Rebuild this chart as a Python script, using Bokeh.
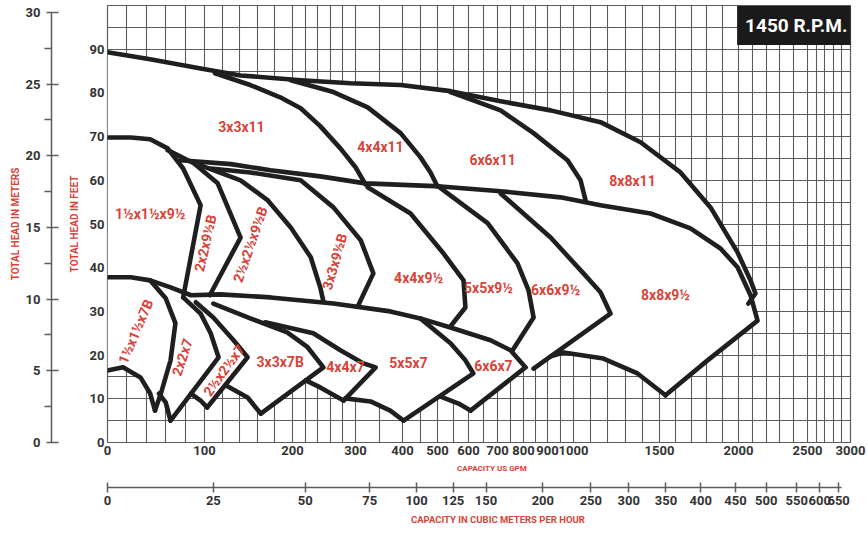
import numpy as np
from bokeh.plotting import figure
from bokeh.models import (Range1d, LinearAxis, FixedTicker, CustomJSTickFormatter,
                          Label, ColumnDataSource)
from bokeh.core.properties import value
from bokeh.embed import file_html
from bokeh.resources import INLINE

# ---------------- scale of the (non-uniform) capacity axis ----------------
GPM_KNOTS = [0, 100, 200, 300, 400, 500, 600, 700, 800, 900, 1000, 1500, 2000, 2500, 3000]
KNOT_POS = [0, 97, 185, 248, 295, 330, 361, 390, 416, 440, 466, 552, 631, 700, 743]

# ---------------- tick values ----------------
GPM_TICKS = [0, 100, 200, 300, 400, 500, 600, 700, 800, 900, 1000, 1500, 2000, 2500, 3000]
M3H_TICKS = [0, 25, 50, 75, 100, 125, 150, 200, 250, 300, 350, 400, 450, 500, 550, 600, 650]
FT_TICKS = [0, 10, 20, 30, 40, 50, 60, 70, 80, 90]
M_TICKS = [0, 5, 10, 15, 20, 25, 30]
GPM_PER_M3H = 4.4029
FT_PER_M = 3.2808

# ---------------- pump coverage curves: (US GPM, head ft) ----------------
# 11" series
E11 = [(0, 89.3), (44, 87.7), (96, 85.6), (141, 84.0), (213, 82.9), (292, 82.2), (396, 81.8),
       (542, 80.4), (712, 78.1), (912, 76.0), (1157, 73.3), (1390, 68.7), (1633, 61.8),
       (1823, 53.8), (1994, 43.5), (2087, 37.1), (2123, 34.1), (2072, 31.8)]
R3X11 = [(112, 84.5), (152, 81.8), (186, 79.0), (213, 76.5), (244, 72.4), (276, 67.3),
         (300, 63.0), (321, 59.1)]
R4X11 = [(198, 82.9), (265, 80.2), (326, 76.7), (396, 70.8), (451, 65.3), (480, 61.8), (500, 58.6)]
R6X11 = [(542, 80.2), (712, 76.0), (842, 70.8), (977, 64.6), (1041, 60.0), (1070, 55.4)]
# 9 1/2" series
T95 = [(75, 64.6), (130, 63.7), (175, 62.3), (244, 60.9), (321, 59.3), (510, 58.6), (712, 57.5),
       (950, 56.1), (1157, 54.3), (1448, 52.4), (1696, 49.0), (1886, 44.4), (1994, 40.1),
       (2087, 33.7), (2138, 27.9), (1804, 18.8), (1538, 10.8)]
E95 = [(0, 69.8), (24, 69.8), (44, 69.4), (62, 67.3), (78, 62.7), (96, 54.3), (78, 33.2)]
R2X95 = [(62, 66.9), (89, 63.9), (115, 59.3), (141, 46.9), (106, 33.7)]
R25X95 = [(96, 63.4), (141, 60.0), (172, 55.4), (198, 49.2), (229, 42.4), (244, 35.5), (249, 32.3)]
R3X95 = [(107, 62.7), (152, 61.8), (213, 60.0), (265, 53.8), (311, 46.3), (338, 38.7), (306, 31.4)]
R4X95 = [(326, 58.4), (423, 52.4), (519, 43.3), (584, 37.1), (590, 30.9), (542, 26.6)]
R5X95 = [(510, 58.2), (666, 50.2), (777, 41.0), (821, 34.8), (842, 28.6), (758, 21.1)]
R6X95 = [(712, 57.0), (912, 46.9), (1058, 38.7), (1157, 34.4), (1215, 29.5), (842, 16.9)]
B8X95 = [(1538, 10.8), (1372, 15.8), (1174, 19.2), (962, 20.6), (912, 19.7)]
# 7" series
L7TOP = [(44, 37.1), (65, 35.5), (86, 33.7), (118, 33.9), (175, 33.2), (265, 31.8), (374, 30.0),
         (451, 28.4), (552, 26.1), (676, 23.4), (750, 21.1), (808, 17.2)]
E7 = [(0, 37.8), (24, 37.8), (44, 37.1), (60, 33.0), (70, 27.3), (65, 18.8), (55, 11.2), (49, 7.3)]
B15X7 = [(0, 16.5), (16, 17.2), (34, 14.9), (44, 11.2), (49, 7.3)]
R2X7 = [(78, 33.2), (96, 29.5), (107, 25.0), (116, 19.5), (65, 5.0)]
B2X7 = [(53, 11.2), (60, 9.2), (65, 5.0)]
R25X7 = [(91, 32.1), (110, 28.6), (133, 23.4), (149, 19.5), (103, 8.0)]
B25X7 = [(86, 11.2), (96, 9.6), (103, 8.0)]
R3X7 = [(110, 31.8), (152, 28.4), (194, 25.2), (224, 21.8), (249, 17.2), (164, 6.6)]
B3X7 = [(124, 13.1), (149, 10.3), (164, 6.6)]
R4X7 = [(169, 27.5), (233, 25.0), (276, 21.1), (317, 18.1), (343, 17.2), (281, 9.6)]
B4X7 = [(221, 14.2), (244, 12.6), (281, 9.6)]
R5X7 = [(451, 28.4), (542, 22.7), (590, 18.8), (617, 15.8), (403, 5.0)]
B5X7 = [(284, 10.1), (332, 9.4), (374, 7.3), (403, 5.0)]
R6X7 = [(808, 17.2), (607, 7.3)]
B6X7 = [(510, 10.5), (568, 8.9), (607, 7.3)]

# ---------------- region labels ----------------
LBL_TEXT = ["3x3x11", "4x4x11", "6x6x11", "8x8x11", "1½x1½x9½", "2x2x9½B", "2½x2½x9½B",
            "3x3x9½B", "4x4x9½", "5x5x9½", "6x6x9½", "8x8x9½", "1½x1½x7B", "2x2x7",
            "2½x2½x7", "3x3x7B", "4x4x7", "5x5x7", "6x6x7"]
LBL_GPM = [142, 353, 683, 1343, 44, 101, 152, 267, 446, 669, 931, 1538, 29, 77, 122, 186, 284, 417, 686]
LBL_FT = [72.1, 67.6, 64.6, 59.8, 52.2, 45.6, 45.3, 41.4, 37.6, 35.3, 34.8, 33.7, 25.4, 19.5,
          16.5, 18.5, 17.2, 18.1, 17.4]
LBL_ANGLE = [0, 0, 0, 0, 0, 77, 71, 74, 0, 0, 0, 0, 67, 72, 54, 0, 0, 0, 0]

TITLE = "1450 R.P.M."
X_TITLE = "CAPACITY US GPM"
X2_TITLE = "CAPACITY IN CUBIC METERS PER HOUR"
Y_TITLE = "TOTAL HEAD IN FEET"
Y2_TITLE = "TOTAL HEAD IN METERS"

# ---------------- styling ----------------
FONT = "Roboto"
RED = "#d8433a"
INK = "#1f1f1f"
GRIDC = "#5c5c5c"
TICKC = "#333333"
TICK_SIZE = "13px"
NB = "\u00a0"


def u(g):
    return np.interp(np.asarray(g, dtype=float), GPM_KNOTS, KNOT_POS)


def xy(curve):
    g = [c[0] for c in curve]
    f = [c[1] for c in curve]
    return list(u(g)), f


def lookup_formatter(positions, labels):
    return CustomJSTickFormatter(
        args=dict(pos=[float(v) for v in positions], lab=[str(v) for v in labels]),
        code="""
        let b = 0, d = 1e12;
        for (let i = 0; i < pos.length; i++) {
            const e = Math.abs(pos[i] - tick);
            if (e < d) { d = e; b = i; }
        }
        return lab[b];
        """)


def spacer(size):
    # an empty axis whose (invisible) label only reserves space
    return LinearAxis(ticker=FixedTicker(ticks=[]), axis_line_color=None,
                      major_tick_line_color=None, minor_tick_line_color=None,
                      major_tick_out=0, major_tick_in=0, minor_tick_out=0, minor_tick_in=0,
                      major_label_text_font_size="0px", major_label_standoff=0,
                      axis_label=NB, axis_label_standoff=size,
                      axis_label_text_font_size="1px", axis_label_text_color="white")


def title_style(ax, text, standoff, size):
    ax.axis_label = text
    ax.axis_label_standoff = standoff
    ax.axis_label_text_font = FONT
    ax.axis_label_text_font_style = "bold"
    ax.axis_label_text_font_size = size
    ax.axis_label_text_color = RED


X_END = KNOT_POS[-1]

p = figure(width=868, height=533, output_backend="svg", toolbar_location=None,
           x_range=Range1d(0, X_END), y_range=Range1d(0, 100),
           min_border_left=107, min_border_right=18, min_border_top=5, min_border_bottom=91)
p.background_fill_color = "white"
p.border_fill_color = "white"
p.outline_line_color = GRIDC
p.outline_line_width = 1.2

# grid
grid_gpm = list(range(0, 300, 20)) + list(range(300, 1000, 50)) + list(range(1000, 3001, 100))
p.xgrid.ticker = FixedTicker(ticks=[float(v) for v in u(grid_gpm)])
p.ygrid.ticker = FixedTicker(ticks=list(range(0, 100, 5)))
for gr in (p.xgrid, p.ygrid):
    gr.grid_line_color = GRIDC
    gr.grid_line_width = 1.1
    gr.grid_line_alpha = 1.0

# feet axis
ya = p.yaxis[0]
ya.ticker = FixedTicker(ticks=FT_TICKS)
ya.axis_line_color = None
ya.major_tick_out = 0
ya.major_tick_in = 0
ya.minor_tick_line_color = None
ya.major_label_standoff = 3
ya.major_label_text_font = FONT
ya.major_label_text_font_style = "bold"
ya.major_label_text_font_size = TICK_SIZE
ya.major_label_text_color = TICKC
title_style(ya, Y_TITLE, 7, "10px")

p.add_layout(spacer(10), "left")

# meters axis
p.extra_y_ranges = {"m": Range1d(0, 100 / FT_PER_M)}
ma = LinearAxis(y_range_name="m",
                ticker=FixedTicker(ticks=M_TICKS, minor_ticks=[m + 2.5 for m in M_TICKS[:-1]]),
                bounds=(M_TICKS[0], M_TICKS[-1]),
                axis_line_color=GRIDC, axis_line_width=1.5,
                major_tick_line_color=GRIDC, major_tick_line_width=1.5,
                major_tick_in=7, major_tick_out=5,
                minor_tick_line_color=GRIDC, minor_tick_line_width=1.5,
                minor_tick_in=0, minor_tick_out=7,
                major_label_standoff=4,
                major_label_text_font=FONT, major_label_text_font_style="bold",
                major_label_text_font_size=TICK_SIZE, major_label_text_color=TICKC)
title_style(ma, Y2_TITLE, 2, "10px")
p.add_layout(ma, "left")

# GPM axis
xa = p.xaxis[0]
gpm_pos = u(GPM_TICKS)
xa.ticker = FixedTicker(ticks=[float(v) for v in gpm_pos])
xa.formatter = lookup_formatter(gpm_pos, GPM_TICKS)
xa.axis_line_color = None
xa.major_tick_out = 0
xa.major_tick_in = 0
xa.minor_tick_line_color = None
xa.major_label_standoff = 3
xa.major_label_text_font = FONT
xa.major_label_text_font_style = "bold"
xa.major_label_text_font_size = TICK_SIZE
xa.major_label_text_color = TICKC
title_style(xa, NB * 13 + X_TITLE, 6, "8px")

p.add_layout(spacer(8), "below")

m3h_pos = u(np.array(M3H_TICKS) * GPM_PER_M3H)
m3 = LinearAxis(ticker=FixedTicker(ticks=[float(v) for v in m3h_pos]),
                formatter=lookup_formatter(m3h_pos, M3H_TICKS),
                bounds=(0, float(m3h_pos[-1]) + 3),
                axis_line_color=GRIDC, axis_line_width=1.5,
                major_tick_line_color=GRIDC, major_tick_line_width=1.5,
                major_tick_in=5, major_tick_out=5, minor_tick_line_color=None,
                major_label_standoff=3,
                major_label_text_font=FONT, major_label_text_font_style="bold",
                major_label_text_font_size=TICK_SIZE, major_label_text_color=TICKC)
title_style(m3, NB * 16 + X2_TITLE, 6, "9.5px")
p.add_layout(m3, "below")

# white coverage area (hides the grid behind the pump regions)
outline = (E11[:-1] + T95[-3:] + B8X95[1:] + [R6X95[-1]] + [L7TOP[-1]] + [R6X7[-1]]
           + B6X7[::-1][1:] + [R5X7[-1]] + B5X7[::-1][1:] + [R4X7[-1]] + B4X7[::-1][1:]
           + [R3X7[-1]] + B3X7[::-1][1:] + [R25X7[-1]] + B25X7[::-1][1:] + [R2X7[-1]]
           + B2X7[::-1][1:] + [E7[-1]] + B15X7[::-1][1:])
ox, oy = xy(outline)
p.patch(ox, oy, fill_color="white", line_color=None)

curves = [E11, R3X11, R4X11, R6X11, T95, E95, R2X95, R25X95, R3X95, R4X95, R5X95, R6X95,
          B8X95, L7TOP, E7, B15X7, R2X7, B2X7, R25X7, B25X7, R3X7, B3X7, R4X7, B4X7,
          R5X7, B5X7, R6X7, B6X7]
for c in curves:
    cx, cy = xy(c)
    p.line(cx, cy, line_color=INK, line_width=4.6, line_join="round", line_cap="round")

src = ColumnDataSource(dict(x=u(LBL_GPM), y=LBL_FT, text=LBL_TEXT, angle=LBL_ANGLE))
p.text(x="x", y="y", text="text", angle="angle", angle_units="deg", source=src,
       text_align="center", text_baseline="middle", text_color=RED,
       text_font=value(FONT), text_font_style="bold", text_font_size="14px")

title = Label(x=X_END + 5, y=95.4, text=TITLE, text_align="right", text_baseline="middle",
              text_color="white", text_font=FONT, text_font_style="bold",
              text_font_size="19px", background_fill_color="#1a1a1a", padding=8)
p.add_layout(title)

open("out.html", "w").write(file_html(p, INLINE))
